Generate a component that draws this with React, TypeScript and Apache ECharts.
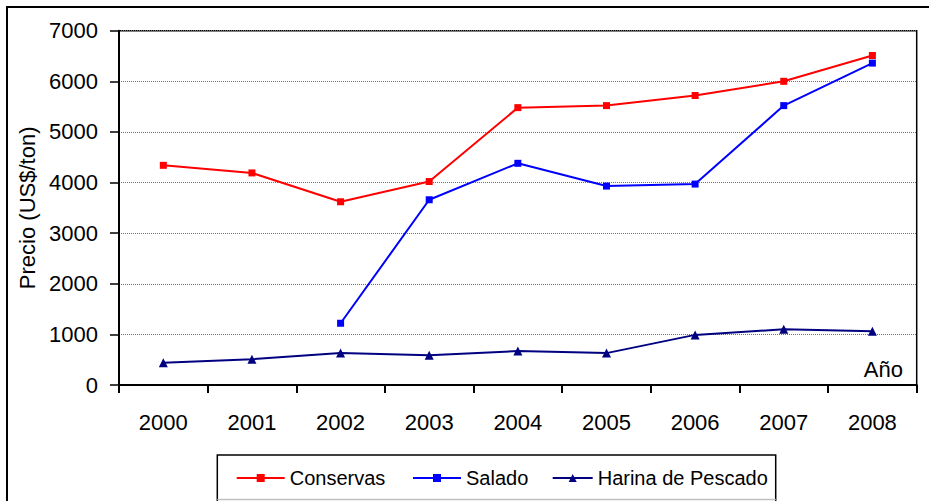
import React, { useEffect, useRef } from "react";
import * as echarts from "echarts";

const years = ["2000", "2001", "2002", "2003", "2004", "2005", "2006", "2007", "2008"];
const conservas = [4340, 4190, 3620, 4020, 5480, 5520, 5720, 6000, 6510];
const salado = [null, null, 1220, 3660, 4380, 3930, 3970, 5520, 6360];
const harina = [440, 510, 630, 590, 670, 630, 990, 1100, 1060];
const yTicks = [0, 1000, 2000, 3000, 4000, 5000, 6000, 7000];

const FONT = "'Liberation Sans', Arial, sans-serif";

export default function App() {
  const ref = useRef<HTMLDivElement>(null);
  useEffect(() => {
    if (!ref.current) return;
    const chart = echarts.init(ref.current, undefined, { renderer: "svg" });
    const legendText = { fontFamily: FONT, fontSize: 20, color: "#000" };
    chart.setOption({
      animation: false,
      backgroundColor: "#fff",
      textStyle: { fontFamily: FONT },
      grid: {
        left: 119,
        top: 30.7,
        right: 12.3,
        bottom: 116,
        show: true,
        borderColor: "#000",
        borderWidth: 1.5,
        backgroundColor: "transparent",
      },
      xAxis: {
        type: "category",
        data: years,
        boundaryGap: true,
        axisLine: { lineStyle: { color: "#000", width: 2 } },
        axisTick: { show: true, inside: false, length: 8, lineStyle: { color: "#000", width: 2 }, alignWithLabel: false },
        axisLabel: { color: "#000", fontFamily: FONT, fontSize: 22, margin: 26 },
        splitLine: { show: false },
      },
      yAxis: {
        type: "value",
        min: yTicks[0],
        max: yTicks[yTicks.length - 1],
        interval: 1000,
        name: "Precio (US$/ton)",
        nameLocation: "middle",
        nameGap: 71,
        nameTextStyle: { color: "#000", fontFamily: FONT, fontSize: 22 },
        axisLine: { show: true, lineStyle: { color: "#000", width: 2 } },
        axisTick: { show: true, inside: false, length: 9, lineStyle: { color: "#000", width: 1.5 } },
        axisLabel: {
          color: "#000",
          fontFamily: FONT,
          fontSize: 22,
          margin: 21,
          formatter: (v: number) => String(v),
        },
        splitLine: { show: true, lineStyle: { color: "#707070", type: [1, 1], width: 1 } },
      },
      legend: [
        {
          left: 235.7, top: 468, padding: 0, itemWidth: 48, itemHeight: 10,
          data: ["Conservas"], textStyle: legendText, selectedMode: false,
        },
        {
          left: 412, top: 468, padding: 0, itemWidth: 48, itemHeight: 10,
          data: ["Salado"], textStyle: legendText, selectedMode: false,
        },
        {
          left: 551.7, top: 468, padding: 0, itemWidth: 40, itemHeight: 10,
          data: ["Harina de Pescado"], textStyle: legendText, selectedMode: false,
        },
      ],
      graphic: [
        {
          type: "rect",
          shape: { x: 7, y: 7, width: 1000, height: 1000 },
          style: { fill: "none", stroke: "#000", lineWidth: 2 },
          silent: true,
        },
        {
          type: "polyline",
          shape: { points: [[217.3, 501], [217.3, 455], [775.7, 455], [775.7, 501]] },
          style: { fill: "none", stroke: "#000", lineWidth: 1.5 },
          silent: true,
        },
        {
          type: "line",
          shape: { x1: 217.3, y1: 499.5, x2: 775.7, y2: 499.5 },
          style: { stroke: "#c0c0c0", lineWidth: 1.5 },
          silent: true,
        },
        {
          type: "text",
          x: 903,
          y: 369,
          style: {
            text: "Año",
            fontFamily: FONT,
            fontSize: 22,
            fill: "#000",
            align: "right",
            verticalAlign: "middle",
          },
          silent: true,
        },
      ],
      series: [
        {
          name: "Conservas",
          type: "line",
          data: conservas,
          symbol: "rect",
          symbolSize: 7,
          showSymbol: true,
          lineStyle: { color: "#ff0000", width: 2 },
          itemStyle: { color: "#ff0000" },
          z: 3,
        },
        {
          name: "Salado",
          type: "line",
          data: salado,
          symbol: "rect",
          symbolSize: 7,
          showSymbol: true,
          lineStyle: { color: "#0000ff", width: 2 },
          itemStyle: { color: "#0000ff" },
          z: 4,
        },
        {
          name: "Harina de Pescado",
          type: "line",
          data: harina,
          symbol: "triangle",
          symbolSize: 9,
          showSymbol: true,
          lineStyle: { color: "#000080", width: 2 },
          itemStyle: { color: "#000080" },
          z: 5,
        },
      ],
    });
    return () => chart.dispose();
  }, []);
  return (
    <div
      ref={ref}
      style={{ position: "absolute", left: 0, top: 0, width: 929, height: 501, background: "#fff" }}
    />
  );
}
